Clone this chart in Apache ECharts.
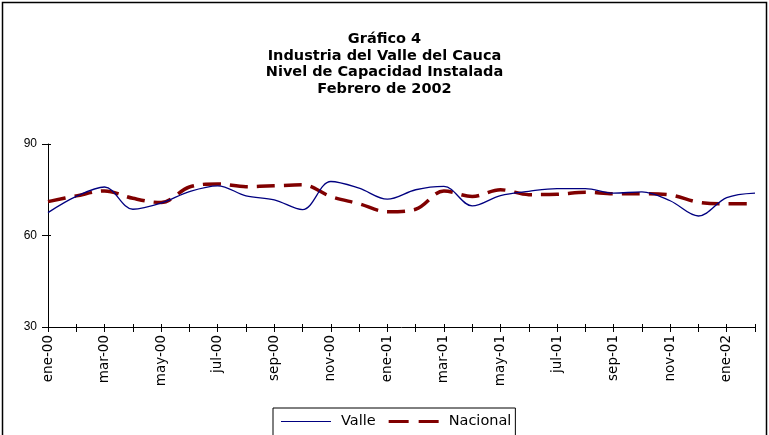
<!DOCTYPE html>
<html>
<head>
<meta charset="utf-8">
<script src="https://cdn.jsdelivr.net/npm/echarts@6/dist/echarts.min.js"></script>
<style>
  html, body { margin: 0; padding: 0; background: #fff; }
  #main { width: 769px; height: 435px; }
</style>
</head>
<body>
<div id="main"></div>
<script>
// datos
var meses = ['ene-00', 'feb-00', 'mar-00', 'abr-00', 'may-00', 'jun-00', 'jul-00', 'ago-00', 'sep-00', 'oct-00', 'nov-00', 'dic-00',
  'ene-01', 'feb-01', 'mar-01', 'abr-01', 'may-01', 'jun-01', 'jul-01', 'ago-01', 'sep-01', 'oct-01', 'nov-01', 'dic-01',
  'ene-02', 'feb-02'];
var valle = [67.5, 72.8, 75.9, 68.6, 70.6, 74.4, 76.3, 73.0, 71.7, 68.5, 77.7, 75.5,
  71.9, 75.0, 76.1, 69.7, 73.1, 74.5, 75.4, 75.4, 73.9, 74.3, 71.4, 66.4,
  72.4, 73.9];
var nacional = [71.1, 73.0, 74.6, 72.2, 70.8, 75.9, 76.9, 76.0, 76.3, 76.6, 72.8, 70.4,
  67.8, 68.6, 74.6, 72.8, 75.0, 73.4, 73.5, 74.2, 73.7, 73.7, 73.3, 70.9,
  70.4, 70.4];
var yTicks = [30, 60, 90];

var myChart = echarts.init(document.getElementById('main'));

var ejeY = {
  type: 'value',
  min: yTicks[0],
  max: yTicks[yTicks.length - 1],
  interval: 30,
  splitLine: { show: false }
};

var option = {
  animation: false,
  textStyle: { fontFamily: 'Liberation Sans, Arial, sans-serif' },
  title: {
    text: 'Gráfico 4\nIndustria del Valle del Cauca\nNivel de Capacidad Instalada\nFebrero de 2002',
    left: 'center',
    top: 26,
    textStyle: { fontFamily: 'DejaVu Sans', fontSize: 14.5, fontWeight: 'bold', color: '#000', lineHeight: 16.5 }
  },
  graphic: [
    {
      type: 'rect',
      shape: { x: 2.5, y: 2.5, width: 764, height: 460 },
      style: { fill: 'none', stroke: '#000', lineWidth: 1.5 },
      z: -1
    }
  ],
  legend: {
    top: 408,
    left: 273,
    itemWidth: 50,
    itemHeight: 10,
    itemGap: 13,
    padding: [6, 4, 14, 8],
    borderColor: '#000',
    borderWidth: 1,
    textStyle: { fontFamily: 'DejaVu Sans', fontSize: 14.5, color: '#000', padding: [0, 0, 0, 5] },
    data: [
      { name: 'Valle', icon: 'path://M0,4.5H50V5.5H0Z' },
      { name: 'Nacional', icon: 'path://M0,3.5H20V6.5H0ZM30,3.5H50V6.5H30Z' }
    ]
  },
  grid: { left: 48, right: 14, top: 144, bottom: 108, containLabel: false },
  xAxis: [
    {
      type: 'category',
      data: meses,
      boundaryGap: false,
      axisLine: { lineStyle: { color: '#000', width: 1 } },
      axisTick: { show: true, interval: 0, length: 5, lineStyle: { color: '#000' } },
      axisLabel: { interval: 1, rotate: 90, fontFamily: 'DejaVu Sans', fontSize: 13.5, color: '#000', margin: 8 },
      splitLine: { show: false }
    },
    {
      // marcas hacia adentro (cruzan el eje)
      type: 'category',
      data: meses,
      boundaryGap: false,
      position: 'bottom',
      axisLine: { show: false },
      axisTick: { show: true, inside: true, interval: 0, length: 3, lineStyle: { color: '#000' } },
      axisLabel: { show: false },
      splitLine: { show: false }
    }
  ],
  yAxis: [
    Object.assign({}, ejeY, {
      axisLine: { show: true, lineStyle: { color: '#000', width: 1 } },
      axisTick: { show: true, length: 6, lineStyle: { color: '#000' } },
      axisLabel: { fontSize: 12, color: '#000', margin: 11 }
    }),
    Object.assign({}, ejeY, {
      position: 'left',
      axisLine: { show: false },
      axisTick: { show: true, inside: true, length: 3, lineStyle: { color: '#000' } },
      axisLabel: { show: false }
    })
  ],
  series: [
    {
      name: 'Valle',
      type: 'line',
      data: valle,
      smooth: 0.35,
      symbol: 'none',
      lineStyle: { color: '#000080', width: 1.3 },
      itemStyle: { color: '#000080' },
      z: 3
    },
    {
      name: 'Nacional',
      type: 'line',
      data: nacional,
      smooth: 0.35,
      symbol: 'none',
      lineStyle: { color: '#800000', width: 3.5, type: [18, 9] },
      itemStyle: { color: '#800000' },
      z: 2
    }
  ]
};

myChart.setOption(option);
</script>
</body>
</html>
